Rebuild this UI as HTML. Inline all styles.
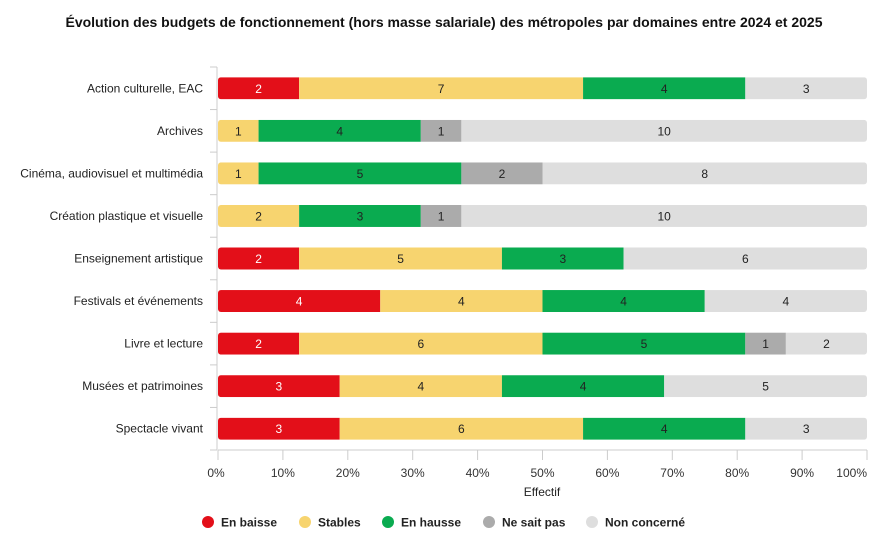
<!DOCTYPE html>
<html><head><meta charset="utf-8"><style>
body{margin:0;background:#fff;font-family:"Liberation Sans",sans-serif;}
svg text{font-family:"Liberation Sans",sans-serif;}
</style></head><body>
<svg width="888" height="552" id="c">
<text x="444" y="27" text-anchor="middle" font-size="14" font-weight="bold" fill="#111">Évolution des budgets de fonctionnement (hors masse salariale) des métropoles par domaines entre 2024 et 2025</text>
<g id="plot"></g>
<text x="542" y="496" text-anchor="middle" font-size="12" fill="#222">Effectif</text>
<g id="legend"></g>
</svg>
<script>
const categories=["Action culturelle, EAC","Archives","Cinéma, audiovisuel et multimédia","Création plastique et visuelle","Enseignement artistique","Festivals et événements","Livre et lecture","Musées et patrimoines","Spectacle vivant"];
const seriesNames=["En baisse","Stables","En hausse","Ne sait pas","Non concerné"];
const enBaisse=[2,0,0,0,2,4,2,3,3];
const stables=[7,1,1,2,5,4,6,4,6];
const enHausse=[4,4,5,3,3,4,5,4,4];
const neSaitPas=[0,1,2,1,0,0,1,0,0];
const nonConcerne=[3,10,8,10,6,4,2,5,3];
const xTicks=[0,10,20,30,40,50,60,70,80,90,100];
const colors=["#e30f19","#f7d46f","#0aab50","#ababab","#dedede"];
const textColors=["#fff","#222","#222","#222","#222"];
const series=[enBaisse,stables,enHausse,neSaitPas,nonConcerne];
const NS="http://www.w3.org/2000/svg";
const X0=218,X1=867,Y0=67,Y1=450;
const band=(Y1-Y0)/categories.length;
const xs=p=>X0+(X1-X0)*p/100;
const plot=document.getElementById('plot');
function mk(tag,attrs,parent){const e=document.createElementNS(NS,tag);for(const k in attrs)e.setAttribute(k,attrs[k]);(parent||plot).appendChild(e);return e;}
// axes
let ax=mk('line',{x1:217,y1:Y0,x2:217,y2:Y1,stroke:'#ccc'});


for(let i=0;i<=categories.length;i++){const y=Y0+band*i;mk('line',{x1:210,y1:y,x2:217,y2:y,stroke:'#ccc'});}
let bx=mk('line',{x1:X0,y1:Y1,x2:X1,y2:Y1,stroke:'#ccc'});


xTicks.forEach((t,i)=>{const x=xs(t);mk('line',{x1:x,y1:Y1,x2:x,y2:Y1+10,stroke:'#ccc'});
const tx=mk('text',{x:i===xTicks.length-1?x:(i===0?x-2:x),y:Y1+27,'text-anchor':i===xTicks.length-1?'end':'middle','font-size':12,fill:'#333'});
tx.textContent=t+'%';

});
categories.forEach((c,i)=>{
const cy=Y0+band*(i+0.5);
const lb=mk('text',{x:203,y:cy+4,'text-anchor':'end','font-size':12,fill:'#222'});
lb.textContent=c;


const tot=series.reduce((s,a)=>s+a[i],0);
let acc=0;
const g=mk('g',{});


const clipId='cl'+i;
const cp=mk('clipPath',{id:clipId},g);
mk('rect',{x:X0,y:cy-11,width:X1-X0,height:22,rx:3},cp);
const inner=mk('g',{'clip-path':'url(#'+clipId+')'},g);
series.forEach((s,k)=>{const v=s[i];if(!v)return;
const xa=xs(acc/tot*100),xb=xs((acc+v)/tot*100);acc+=v;
const r=mk('rect',{x:xa,y:cy-11,width:xb-xa,height:22,fill:colors[k]},inner);


const t=mk('text',{x:(xa+xb)/2,y:cy+4.5,'text-anchor':'middle','font-size':12,fill:textColors[k]},g);
t.textContent=v;

});
});
const leg=document.getElementById('legend');
const lx=[208,305,388,489,592];
seriesNames.forEach((n,k)=>{
const g=mk('g',{},leg);


mk('circle',{cx:lx[k],cy:522,r:6,fill:colors[k]},g);
const t=mk('text',{x:lx[k]+13,y:526.5,'font-size':12,'font-weight':'bold',fill:'#222'},g);
t.textContent=n;});
</script>
</body></html>
